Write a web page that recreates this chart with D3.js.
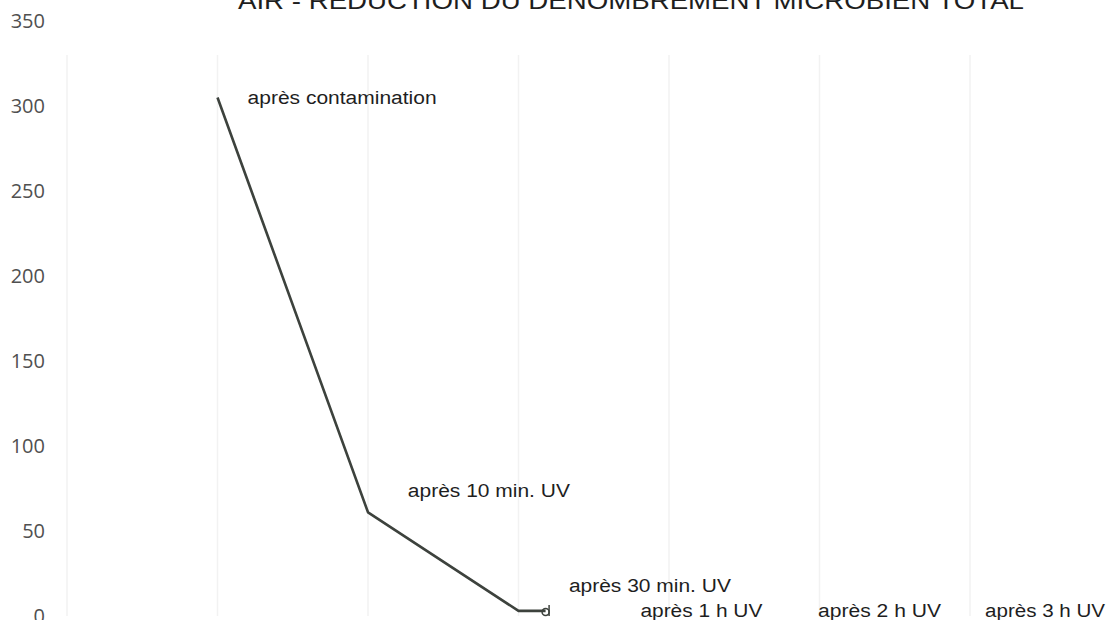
<!DOCTYPE html>
<html>
<head>
<meta charset="utf-8">
<script src="https://cdn.jsdelivr.net/npm/d3@7"></script>
<style>
  html, body { margin: 0; padding: 0; background: #fff; overflow: hidden; }
  svg { display: block; }
</style>
</head>
<body>
<svg id="chart" width="1110" height="620"></svg>
<script>
// ---- data ----
const title = "AIR - RÉDUCTION DU DÉNOMBREMENT MICROBIEN TOTAL";
const yTicks = [0, 50, 100, 150, 200, 250, 300, 350];
const gridX = [0, 1, 2, 3, 4, 5, 6];
// line series (x position on the scatter axis, microbial count)
const seriesX = [1, 2, 3, 3.18];
const seriesY = [305, 61, 3, 3];
// point labels
const labels = ["après contamination", "après 10 min. UV", "après 30 min. UV", "après 1 h UV", "après 2 h UV", "après 3 h UV"];

// ---- label layout (data-space anchors) ----
const labelPos = [
  { x: 1.20, y: 305, w: 189 },
  { x: 2.265, y: 74, w: 162 },
  { x: 3.335, y: 18, w: 162 },
  { x: 3.81, y: 3.5, w: 122 },
  { x: 4.99, y: 3.5, w: 123 },
  { x: 6.10, y: 3.5, w: 120 }
];

const svg = d3.select("#chart");
const x = d3.scaleLinear().domain([0, 7]).range([67, 1120.5]);
const y = d3.scaleLinear().domain([0, 350]).range([616, 21]);

// faint vertical gridlines
svg.append("g").selectAll("line").data(gridX).join("line")
  .attr("x1", d => x(d)).attr("x2", d => x(d))
  .attr("y1", y(330)).attr("y2", y(0))
  .attr("stroke", "#f2f2f2").attr("stroke-width", 1.5);

// title (cropped at top)
svg.append("text")
  .attr("x", 238).attr("y", 9)
  .attr("font-family", "Liberation Sans, Arial, sans-serif")
  .attr("font-size", 24)
  .attr("fill", "#1e1e1e")
  .attr("textLength", 786).attr("lengthAdjust", "spacingAndGlyphs")
  .text(title);

// y axis labels
const yAxis = d3.axisLeft(y).tickValues(yTicks).tickSize(0).tickPadding(22);
const gy = svg.append("g").attr("transform", `translate(${x(0)},0)`).call(yAxis);
gy.select(".domain").remove();
gy.selectAll("text")
  .attr("font-family", "Open Sans, sans-serif")
  .attr("font-size", 20)
  .attr("fill", "#505050");

// line
const pts = seriesX.map((d, i) => [d, seriesY[i]]);
svg.append("path")
  .datum(pts)
  .attr("fill", "none")
  .attr("stroke", "#3d423d")
  .attr("stroke-width", 2.6)
  .attr("stroke-linejoin", "round")
  .attr("d", d3.line().x(d => x(d[0])).y(d => y(d[1])));

// small end marker
const last = pts[pts.length - 1];
svg.append("circle")
  .attr("cx", x(last[0])).attr("cy", y(last[1]) + 1)
  .attr("r", 3.5)
  .attr("fill", "none").attr("stroke", "#3d423d").attr("stroke-width", 1.5);
svg.append("line")
  .attr("x1", x(last[0]) + 3.5).attr("x2", x(last[0]) + 3.5)
  .attr("y1", y(last[1]) - 6).attr("y2", y(last[1]) + 5)
  .attr("stroke", "#3d423d").attr("stroke-width", 1.5);

// point labels
svg.append("g").selectAll("text").data(labels).join("text")
  .attr("x", (d, i) => x(labelPos[i].x))
  .attr("y", (d, i) => y(labelPos[i].y) + 6.5)
  .attr("font-family", "Liberation Sans, Arial, sans-serif")
  .attr("font-size", 18)
  .attr("fill", "#1e1e1e")
  .attr("textLength", (d, i) => labelPos[i].w)
  .attr("lengthAdjust", "spacingAndGlyphs")
  .text(d => d);
</script>
</body>
</html>
